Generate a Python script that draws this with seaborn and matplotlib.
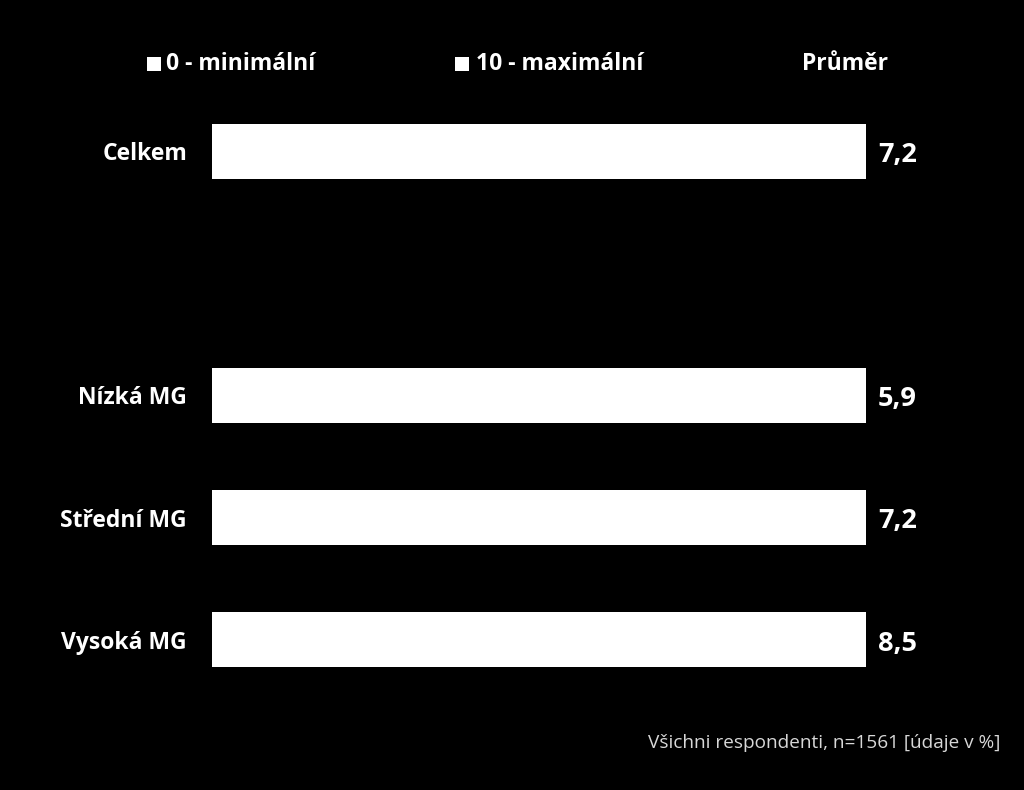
import matplotlib
matplotlib.use("Agg")
import matplotlib.pyplot as plt
from matplotlib.patches import Rectangle
import seaborn as sns
import pandas as pd

categories = ["Celkem", "", "Nízká MG", "Střední MG", "Vysoká MG"]
totals = [100, 0, 100, 100, 100]
averages = ["7,2", "", "5,9", "7,2", "8,5"]
legend_labels = ["0 - minimální", "10 - maximální"]
avg_header = "Průměr"
footnote = "Všichni respondenti, n=1561 [údaje v %]"

sns.set_theme(style="white")
plt.rcParams["font.family"] = ["Open Sans", "DejaVu Sans"]

W, H = 1024, 790
fig = plt.figure(figsize=(W / 100, H / 100), dpi=100, facecolor="black")
ax = fig.add_axes([212/W, 1 - 701/H, (866-212)/W, (701-90)/H])
ax.set_facecolor("black")

df = pd.DataFrame({"cat": categories, "val": totals})
sns.barplot(data=df, y="cat", x="val", order=categories, color="white",
            saturation=1, width=0.45, ax=ax, orient="h", linewidth=0)
ax.set_xlim(0, 100)
ax.set_ylim(4.5, -0.5)
for s in ax.spines.values():
    s.set_visible(False)
ax.set_xticks([])
ax.set_xlabel("")
ax.set_ylabel("")
ax.tick_params(axis="y", length=0, pad=18)
for lab in ax.get_yticklabels():
    lab.set_color("white")
    lab.set_fontweight("bold")
    lab.set_fontsize(16.5)

for i, a in enumerate(averages):
    if a:
        ax.text(101.8, i + 0.03, a, color="white", fontsize=19.5, fontweight="bold",
                va="center", ha="left")

# legend markers and labels
for sx, tx, lab in [(147, 166, legend_labels[0]), (455, 476, legend_labels[1])]:
    fig.patches.append(Rectangle((sx / W, 1 - 71 / H), 14 / W, 14 / H,
                                 transform=fig.transFigure, facecolor="white",
                                 edgecolor="none"))
    fig.text(tx / W, 1 - 64 / H, lab, color="white", fontsize=16.5,
             fontweight="bold", va="center", ha="left")
fig.text(845.5/W, 1 - 64/H, avg_header, color="white", fontsize=16.5,
         fontweight="bold", va="center", ha="center")
fig.text(1000/W, 1 - 743/H, footnote, color="#d8d8d8", fontsize=13.7,
         va="center", ha="right")

fig.savefig("out.png", dpi=100, facecolor="black")
